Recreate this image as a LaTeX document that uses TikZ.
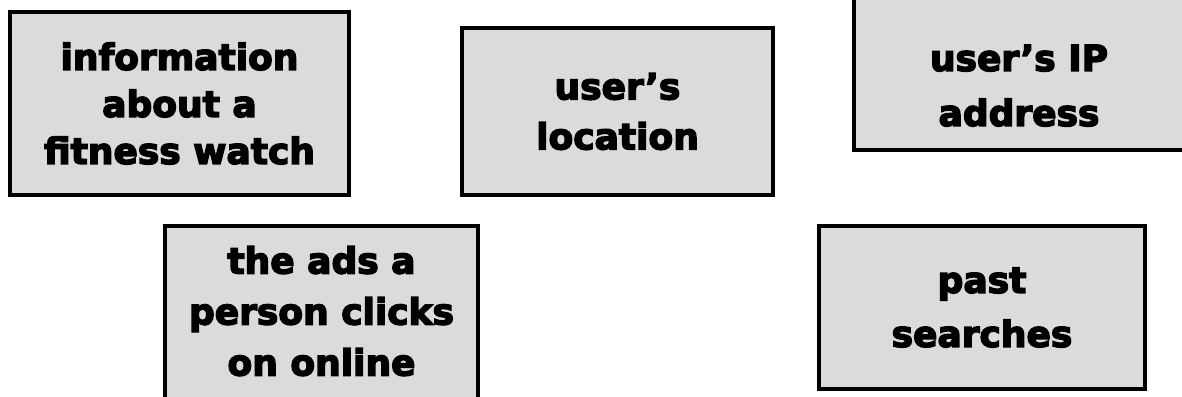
\documentclass[tikz,border=0pt]{standalone}
\usepackage{fontspec}
\setmainfont{DejaVu Sans}[BoldFeatures={FakeBold=4}]

\begin{document}
\begin{tikzpicture}[x=1pt, y=-1pt,
  card/.style={draw=black, line width=4pt, fill=black!14, align=center,
    font=\fontsize{36}{#1}\selectfont\bfseries, inner sep=0pt},
  card/.default=50]
  \useasboundingbox (0,0) rectangle (1182,396);
  \clip (0,0) rectangle (1182,396);
  % top row
  \node[card=47, minimum width=339, minimum height=183] (watch) at (179.5,103.5)
    {information\\about a\\fitness watch};
  \node[card, minimum width=311, minimum height=167] (location) at (617.5,111.5)
    {user's\\location};
  \node[card=55, minimum width=330, minimum height=196] (ip) at (1019,52)
    {\strut\\user's IP\\address};
  % bottom row
  \node[card=51, minimum width=313, minimum height=236] (ads) at (321.5,344)
    {the ads a\\person clicks\\on online\\\strut};
  \node[card=54, minimum width=326, minimum height=163] (searches) at (982,307.5)
    {past\\searches};
\end{tikzpicture}
\end{document}
